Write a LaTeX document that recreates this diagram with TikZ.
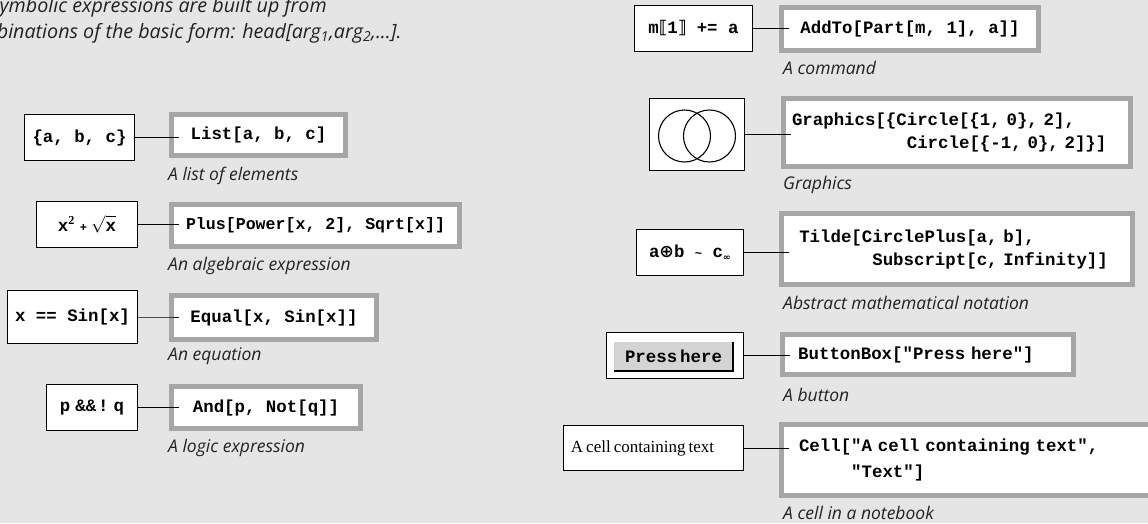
\documentclass[tikz,border=0pt]{standalone}
\usepackage{fontspec}
\setmainfont{Liberation Serif}
\newfontfamily\codefont{Liberation Mono}
\newfontfamily\capfont{Open Sans}
\newfontfamily\symfont{DejaVu Sans}

\definecolor{bg}{RGB}{229,229,229}
\definecolor{frame}{RGB}{166,166,166}
\definecolor{knob}{RGB}{212,212,212}
\definecolor{ink}{RGB}{34,34,34}

\newcommand\codestyle{\codefont\bfseries\fontsize{17.4}{23}\selectfont}
\newcommand\notestyle{\capfont\itshape\fontsize{17.5}{20}\selectfont}

\tikzset{
  term/.style={draw, line width=1.2pt, fill=white, inner sep=0pt, font=\codestyle},
  expr/.style={draw=frame, line width=5pt, fill=white, inner sep=0pt, font=\codestyle},
  note/.style={anchor=base west, inner sep=0pt, font=\notestyle, text=ink},
  link/.style={line width=1pt},
  pressbox/.style={fill=knob, inner sep=0pt, font=\codestyle}
}

\begin{document}
\begin{tikzpicture}[x=1pt,y=-1pt]

\fill[bg] (0,0) rectangle (1148,523);
\useasboundingbox (0,0) rectangle (1148,523);

\node[note, font=\capfont\itshape\fontsize{19.7}{22}\selectfont] (h1) at (-10.5,12) {Symbolic expressions are built up from};
\node[note, font=\capfont\itshape\fontsize{19.7}{22}\selectfont] (h2) at (-40.5,38) {combinations of the basic form: head[arg\textsubscript{1},arg\textsubscript{2},...].};

% left column
\node[term, minimum width=109.8pt, minimum height=45.8pt] (l1) at (79.5,137.5) {\{a, b, c\}};
\node[expr, minimum width=174pt, minimum height=41pt] (r1) at (258.5,135) {List[a, b, c]};

\node[term, minimum width=100.8pt, minimum height=45.8pt] (l2) at (87,224.5)
  {x\textsuperscript{\rmfamily\bfseries 2}\kern5pt{\fontsize{12}{12}\selectfont+}\kern4pt$\sqrt{\vphantom{\hbox{X}}\hbox{x}}$};
\node[expr, minimum width=288pt, minimum height=42pt, font=\codefont\bfseries\fontsize{16.6}{23}\selectfont] (r2) at (315.5,225.5) {Plus[Power[x, 2], Sqrt[x]]};

\node[term, minimum width=129.8pt, minimum height=52.8pt] (l3) at (72.5,317) {x == Sin[x]};
\node[expr, minimum width=205pt, minimum height=44pt] (r3) at (274,317.5) {Equal[x, Sin[x]]};

\node[term, minimum width=90.8pt, minimum height=45.8pt] (l4) at (92,407.5) {p\kern5pt\&\&\kern2pt!\kern5pt q};
\node[expr, minimum width=189pt, minimum height=42pt] (r4) at (266,407.5) {And[p, Not[q]]};

% right column
\node[term, minimum width=117.8pt, minimum height=45.8pt] (l5) at (693.5,28.5)
  {m{\symfont\bfseries ⟦}1{\symfont\bfseries ⟧} += a};
\node[expr, minimum width=257pt, minimum height=43pt] (r5) at (910,29) {AddTo[Part[m, 1], a]]};

\node[term, minimum width=95.3pt, minimum height=71.8pt] (l6) at (697,134.5) {};
\foreach \dx in {-12.5,12.5}
  \draw[line width=1.1pt] ([xshift=\dx pt, yshift=-1.5pt]l6.center) circle (26pt);
\node[expr, text width=330pt, inner xsep=8.5pt, minimum height=68pt, align=left] (r6) at (957,132.5)
  {Graphics[\{Circle[\{1, 0\}, 2],\\\hphantom{Graphics[\{C}Circle[\{-1, 0\}, 2]\}]};

\node[term, minimum width=106.8pt, minimum height=45.8pt] (l7) at (690,252.5)
  {a{\symfont\bfseries ⊕}b {\fontsize{12}{12}\selectfont\textasciitilde} c\textsubscript{\symfont\fontsize{9}{9}\selectfont ∞}};
\node[expr, text width=315pt, inner xsep=17.75pt, minimum height=71pt, align=left] (r7) at (956.75,249)
  {Tilde[CirclePlus[a, b],\\\hphantom{Tilde[C}Subscript[c, Infinity]]};

\node[term, minimum width=136.8pt, minimum height=45.8pt] (l8) at (675,355.5) {};
\node[pressbox, minimum width=119pt, minimum height=29pt] (btn) at (673.5,356.5) {Press\kern3pt here};
\draw[line width=2pt] (btn.south west) -- (btn.south east) -- (btn.north east);
\node[expr, text width=259.6pt, inner xsep=15.5pt, minimum height=40pt, align=left] (r8) at (928,354.5)
  {ButtonBox["Press here"]};

\node[term, minimum width=179.8pt, minimum height=44.8pt,
  font={\rmfamily\fontsize{17}{20}\selectfont\spaceskip=3pt\relax}] (l9) at (653.5,448) {A cell containing text\kern22pt\mbox{}};
\node[expr, text width=336pt, inner xsep=17.5pt, minimum height=71pt, align=left,
  font={\codestyle\fontsize{17.4}{26}\selectfont}] (r9) at (967,460)
  {Cell["A cell containing text",\\\hphantom{Cell[}"Text"]};

\foreach \a/\b in {l1/r1,l2/r2,l3/r3,l4/r4,l5/r5,l6/r6,l7/r7,l8/r8,l9/r9}
  \draw[link] (\a.east) -- (\a.east -| \b.west) -- ++(10pt,0);

% captions
\node[note] (c1) at (168,180) {A list of elements};
\node[note] (c2) at (168,270) {An algebraic expression};
\node[note] (c3) at (168,360) {An equation};
\node[note] (c4) at (168,452) {A logic expression};
\node[note] (c5) at (783,74) {A command};
\node[note] (c6) at (783,189) {Graphics};
\node[note] (c7) at (783,309) {Abstract mathematical notation};
\node[note] (c8) at (783,401) {A button};
\node[note] (c9) at (783,519) {A cell in a notebook};

\end{tikzpicture}
\end{document}
